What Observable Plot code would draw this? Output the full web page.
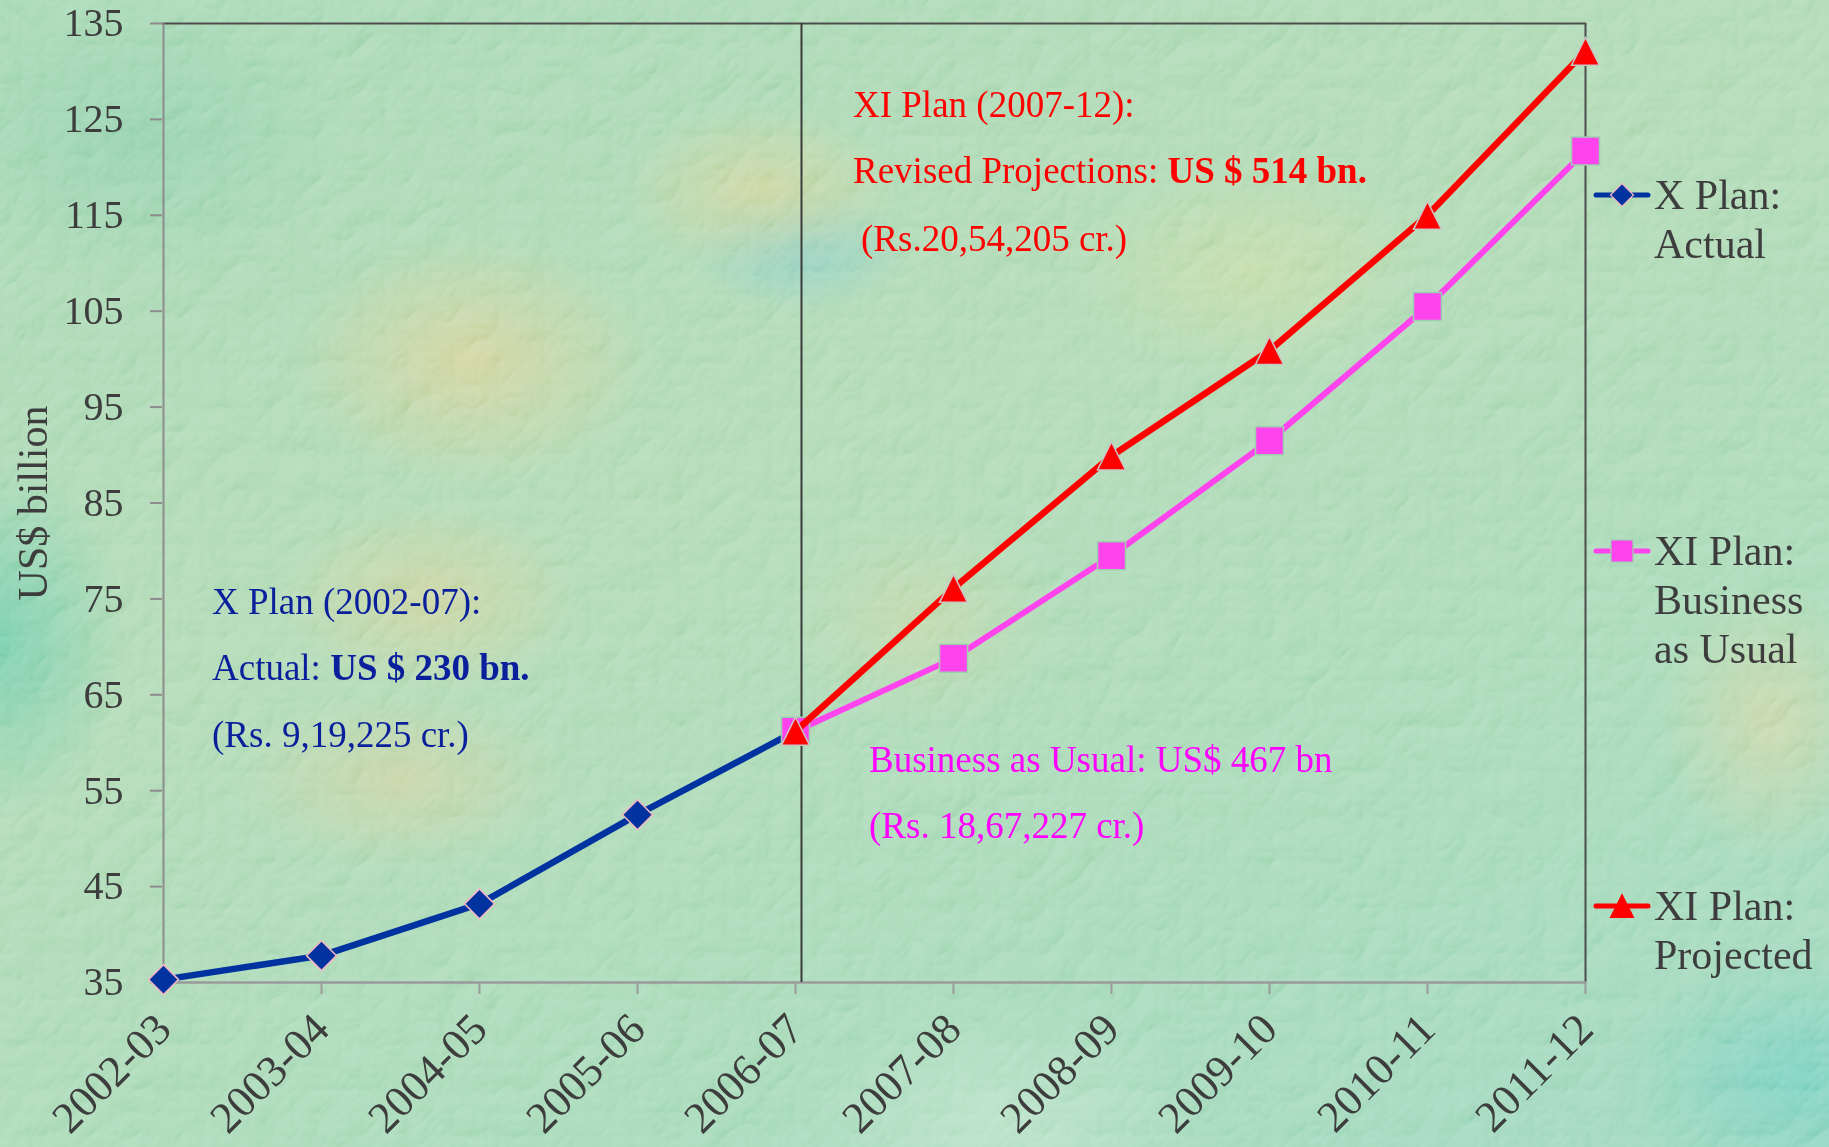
<!DOCTYPE html>
<html>
<head>
<meta charset="utf-8">
<script src="https://cdn.jsdelivr.net/npm/d3@7"></script>
<script src="https://cdn.jsdelivr.net/npm/@observablehq/plot@0.6"></script>
<style>
  html, body { margin: 0; padding: 0; }
  body {
    width: 1829px; height: 1147px; overflow: hidden; position: relative;
    font-family: "Liberation Serif", "Times New Roman", serif;
    background:
      radial-gradient(ellipse 260px 180px at 470px 360px, rgba(212, 204, 140, 0.8), transparent 70%),
      radial-gradient(ellipse 220px 140px at 430px 600px, rgba(208, 204, 142, 0.7), transparent 70%),
      radial-gradient(ellipse 240px 130px at 400px 780px, rgba(210, 202, 144, 0.6), transparent 70%),
      radial-gradient(ellipse 200px 120px at 760px 190px, rgba(210, 206, 140, 0.7), transparent 70%),
      radial-gradient(ellipse 160px 90px at 800px 250px, rgba(100, 190, 205, 0.5), transparent 70%),
      radial-gradient(ellipse 260px 160px at 1250px 270px, rgba(200, 216, 150, 0.6), transparent 70%),
      radial-gradient(ellipse 200px 160px at 920px 620px, rgba(200, 208, 150, 0.5), transparent 70%),
      radial-gradient(ellipse 160px 200px at 1770px 720px, rgba(212, 208, 152, 0.65), transparent 70%),
      radial-gradient(ellipse 180px 260px at 0px 640px, rgba(90, 196, 160, 0.8), transparent 70%),
      radial-gradient(ellipse 260px 180px at 1800px 1080px, rgba(100, 200, 185, 0.8), transparent 70%),
      radial-gradient(ellipse 300px 160px at 1000px 1120px, rgba(190, 228, 200, 0.6), transparent 70%),
      radial-gradient(ellipse 300px 200px at 140px 140px, rgba(120, 196, 160, 0.55), transparent 70%),
      linear-gradient(160deg, #9ad2aa 0%, #a6d4aa 40%, #9cd4ae 70%, #92d2b5 100%);
  }
  #texture { position: absolute; left: 0; top: 0; opacity: 0.6; mix-blend-mode: soft-light; }
  #chart { position: absolute; left: 0; top: 0; }
</style>
</head>
<body>
<svg id="texture" width="1829" height="1147" xmlns="http://www.w3.org/2000/svg">
  <filter id="stucco" x="0" y="0" width="100%" height="100%">
    <feTurbulence type="turbulence" baseFrequency="0.022" numOctaves="3" seed="7" result="noise"/>
    <feDiffuseLighting in="noise" surfaceScale="4" diffuseConstant="1" lighting-color="#ffffff">
      <feDistantLight azimuth="235" elevation="50"/>
    </feDiffuseLighting>
  </filter>
  <rect width="1829" height="1147" filter="url(#stucco)"/>
</svg>
<div id="chart"></div>
<script>
// Fiscal years on the category axis
const years = ["2002-03", "2003-04", "2004-05", "2005-06", "2006-07",
               "2007-08", "2008-09", "2009-10", "2010-11", "2011-12"];

// X Plan (2002-07): actual, US$ billion
const actualYears = ["2002-03", "2003-04", "2004-05", "2005-06", "2006-07"];
const actualValues = [35.3, 37.8, 43.2, 52.5, 61.2];

// XI Plan (2007-12): both paths start from the 2006-07 level
const planYears = ["2006-07", "2007-08", "2008-09", "2009-10", "2010-11", "2011-12"];
const businessValues = [61.2, 68.8, 79.5, 91.5, 105.5, 121.7];
const projectedValues = [61.2, 76.1, 89.9, 100.9, 115.0, 132.1];

// Y axis ticks
const yTicks = [35, 45, 55, 65, 75, 85, 95, 105, 115, 125, 135];

// Plan totals in rupees (crore)
const actualRupees = "9,19,225";
const projectedRupees = "20,54,205";
const businessRupees = "18,67,227";

// Legend labels
const legendLabels = [["X Plan:", "Actual"], ["XI Plan:", "Business", "as Usual"], ["XI Plan:", "Projected"]];

// Tables for Plot
const actual = actualYears.map((year, i) => ({year, value: actualValues[i]}));
const business = planYears.map((year, i) => ({year, value: businessValues[i]}));
const projected = planYears.map((year, i) => ({year, value: projectedValues[i]}));

// Plan totals (the base year 2006-07 belongs to the X Plan)
const actualTotal = Math.round(d3.sum(actualValues));
const businessTotal = Math.round(d3.sum(businessValues.slice(1)));
const projectedTotal = Math.round(d3.sum(projectedValues.slice(1)));

// Marker shapes (r is the half-extent of each shape)
const half = size => Math.sqrt(size / Math.PI);
const diamond = {draw(ctx, size) { const r = half(size); ctx.moveTo(0, -r); ctx.lineTo(r, 0); ctx.lineTo(0, r); ctx.lineTo(-r, 0); ctx.closePath(); }};
const square = {draw(ctx, size) { const r = half(size); ctx.rect(-r, -r, 2 * r, 2 * r); }};
const triangle = {draw(ctx, size) { const r = half(size); ctx.moveTo(0, -r); ctx.lineTo(r, r); ctx.lineTo(-r, r); ctx.closePath(); }};

const BLUE = "#0033a0", PINK = "#ff44ee", RED = "#ff0000";
const INK = "#3d3d3d";

const chart = Plot.plot({
  width: 1829,
  height: 1147,
  marginLeft: 162,
  marginRight: 243,
  marginTop: 23,
  marginBottom: 165,
  style: {background: "transparent", fontFamily: "'Liberation Serif', 'Times New Roman', serif", overflow: "visible"},
  x: {type: "point", domain: years, padding: 0},
  y: {domain: [35, 135]},
  marks: [
    // plot frame: dark top/right edges, grey axis lines
    Plot.ruleY([135], {stroke: "#4d4d4d", strokeWidth: 2}),
    Plot.ruleX([years[years.length - 1]], {stroke: "#4d4d4d", strokeWidth: 2}),
    Plot.ruleX([years[0]], {stroke: "#8c8c8c", strokeWidth: 2}),
    Plot.ruleY([35], {stroke: "#9a9a9a", strokeWidth: 2.5}),
    // divider between the two plan periods
    Plot.ruleX(["2006-07"], {dx: 6, stroke: "#3a3a3a", strokeWidth: 2}),

    Plot.axisY({ticks: yTicks, tickSize: 12, tickPadding: 27, fontSize: 40,
                fill: INK, stroke: "#8c8c8c", strokeWidth: 2, label: null}),
    Plot.axisX({tickSize: 12, stroke: "#9a9a9a", strokeWidth: 2, tickFormat: () => "", label: null}),
    Plot.text(years, {x: d => d, frameAnchor: "bottom", rotate: -45, textAnchor: "end",
                      lineAnchor: "top", dx: -12, dy: 27, fontSize: 44, fill: INK}),
    Plot.text(["US$ billion"], {frameAnchor: "left", rotate: -90, textAnchor: "middle", lineAnchor: "middle",
                                dx: -129, fontSize: 42, fill: INK}),

    // X Plan actual
    Plot.line(actual, {x: "year", y: "value", stroke: BLUE, strokeWidth: 6.5}),
    Plot.dot(actual, {x: "year", y: "value", symbol: diamond, r: 15, fill: BLUE, stroke: "#f3b8c2", strokeWidth: 1.5}),
    // XI Plan business as usual
    Plot.line(business, {x: "year", y: "value", stroke: PINK, strokeWidth: 6}),
    Plot.dot(business, {x: "year", y: "value", symbol: square, r: 14, fill: PINK, stroke: "#9ccfae", strokeWidth: 1.5}),
    // XI Plan projected
    Plot.line(projected, {x: "year", y: "value", stroke: RED, strokeWidth: 6.5}),
    Plot.dot(projected, {x: "year", y: "value", symbol: triangle, r: 14, fill: RED, stroke: "#c8c8c8", strokeWidth: 1.5})
  ]
});

document.getElementById("chart").appendChild(chart);

const svg = d3.select(chart);
const FONT = "'Liberation Serif', 'Times New Roman', serif";

// Multi-line annotations with bold figures
function note(x, lines, color) {
  const g = svg.append("g").attr("fill", color).attr("font-family", FONT)
    .attr("font-size", 37).attr("text-anchor", "start");
  for (const line of lines) {
    const t = g.append("text").attr("x", line.x ?? x).attr("y", line.y);
    for (const part of line.parts) {
      t.append("tspan").attr("font-weight", part.bold ? "bold" : null).text(part.text);
    }
  }
}

note(212, [
  {y: 614, parts: [{text: "X Plan (2002-07):"}]},
  {y: 680, parts: [{text: "Actual: "}, {text: `US $ ${actualTotal} bn.`, bold: true}]},
  {y: 747, parts: [{text: `(Rs. ${actualRupees} cr.)`}]}
], "#0a1f9c");

note(853, [
  {y: 117, parts: [{text: "XI Plan (2007-12):"}]},
  {y: 183, parts: [{text: "Revised Projections: "}, {text: `US $ ${projectedTotal} bn.`, bold: true}]},
  {y: 251, x: 861, parts: [{text: `(Rs.${projectedRupees} cr.)`}]}
], RED);

note(869, [
  {y: 772, parts: [{text: `Business as Usual: US$ ${businessTotal} bn`}]},
  {y: 838, parts: [{text: `(Rs. ${businessRupees} cr.)`}]}
], "#ff00ff");

// Legend beside the plot
const legendItems = [
  {labels: legendLabels[0], color: BLUE, type: diamond, r: 11.5, edge: "#f3b8c2", cy: 195},
  {labels: legendLabels[1], color: PINK, type: square, r: 11, edge: "#9ccfae", cy: 551},
  {labels: legendLabels[2], color: RED, type: triangle, r: 11.5, edge: RED, cy: 906}
];
const legend = svg.append("g").attr("font-family", FONT).attr("font-size", 42)
  .attr("fill", INK).attr("text-anchor", "start");
for (const item of legendItems) {
  const g = legend.append("g").attr("transform", `translate(1596,${item.cy})`);
  g.append("line").attr("x1", 0).attr("x2", 52).attr("stroke", item.color)
    .attr("stroke-width", 5).attr("stroke-linecap", "round");
  g.append("path").attr("transform", "translate(26,0)")
    .attr("d", d3.symbol(item.type, Math.PI * item.r * item.r)())
    .attr("fill", item.color).attr("stroke", item.edge).attr("stroke-width", 1.2);
  item.labels.forEach((label, i) => {
    g.append("text").attr("x", 58).attr("y", 14 + i * 49).text(label);
  });
}
</script>
</body>
</html>
